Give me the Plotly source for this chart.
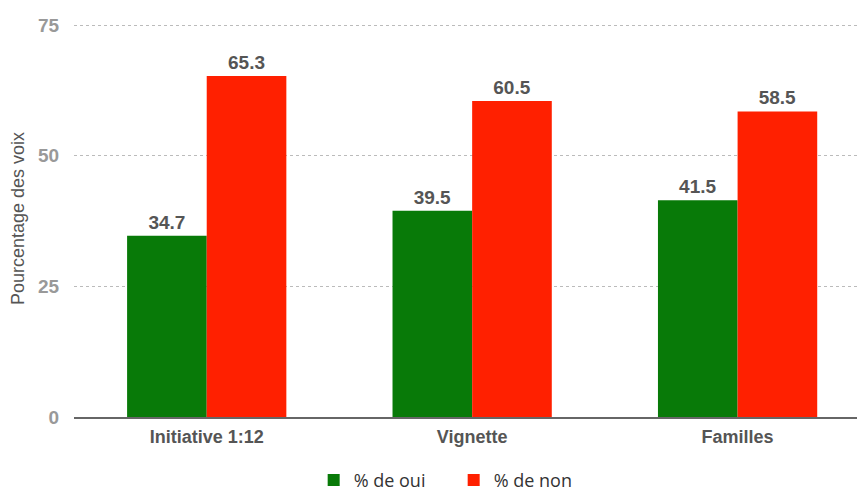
import plotly.graph_objects as go

categories = ["Initiative 1:12", "Vignette", "Familles"]
oui = [34.7, 39.5, 41.5]
non = [65.3, 60.5, 58.5]
series_names = ["% de oui", "% de non"]
y_ticks = [0, 25, 50, 75]

FONT = "Liberation Sans, Arial, Helvetica, sans-serif"

fig = go.Figure()
fig.add_trace(go.Bar(
    x=categories, y=oui, name=series_names[0],
    marker=dict(color="#087a08", line=dict(width=0)),
    text=[f"{v:.1f}" for v in oui], textposition="outside",
    textfont=dict(family=FONT, size=19, color="#555555", weight="bold"),
    cliponaxis=False,
))
fig.add_trace(go.Bar(
    x=categories, y=non, name=series_names[1],
    marker=dict(color="#ff2000", line=dict(width=0)),
    text=[f"{v:.1f}" for v in non], textposition="outside",
    textfont=dict(family=FONT, size=19, color="#555555", weight="bold"),
    cliponaxis=False,
))

fig.update_layout(
    width=857, height=483,
    margin=dict(l=66, r=0, t=12, b=74, autoexpand=False),
    paper_bgcolor="white", plot_bgcolor="white",
    barmode="group", bargap=0.4, bargroupgap=0,
    font=dict(family=FONT, color="#444444"),
    showlegend=True,
    legend=dict(orientation="h", x=0.303, xanchor="left", yref="container", y=0.022, yanchor="middle",
                font=dict(family="Open Sans", size=18, color="#333333"),
                itemwidth=30, entrywidth=95, entrywidthmode="pixels", traceorder="normal"),
)
fig.update_xaxes(
    showgrid=False, showline=True, linecolor="#666666", linewidth=2,
    tickfont=dict(family=FONT, size=18, color="#555555", weight="bold"),
    ticks="outside", ticklen=2, tickcolor="rgba(0,0,0,0)",
    range=[-0.5, 2.48], automargin=False,
)
fig.update_yaxes(
    range=[0, 76], tickvals=y_ticks, showline=False, zeroline=False,
    showgrid=True, gridcolor="#bbbbbb", griddash="3px,3px", gridwidth=1,
    tickfont=dict(family=FONT, size=19, color="#999999", weight="bold"),
    ticks="outside", ticklen=10, tickcolor="rgba(0,0,0,0)",
    title=dict(text="Pourcentage des voix", font=dict(family=FONT, size=18, color="#555555"), standoff=10),
    automargin=False,
)
fig.write_html("out.html")
